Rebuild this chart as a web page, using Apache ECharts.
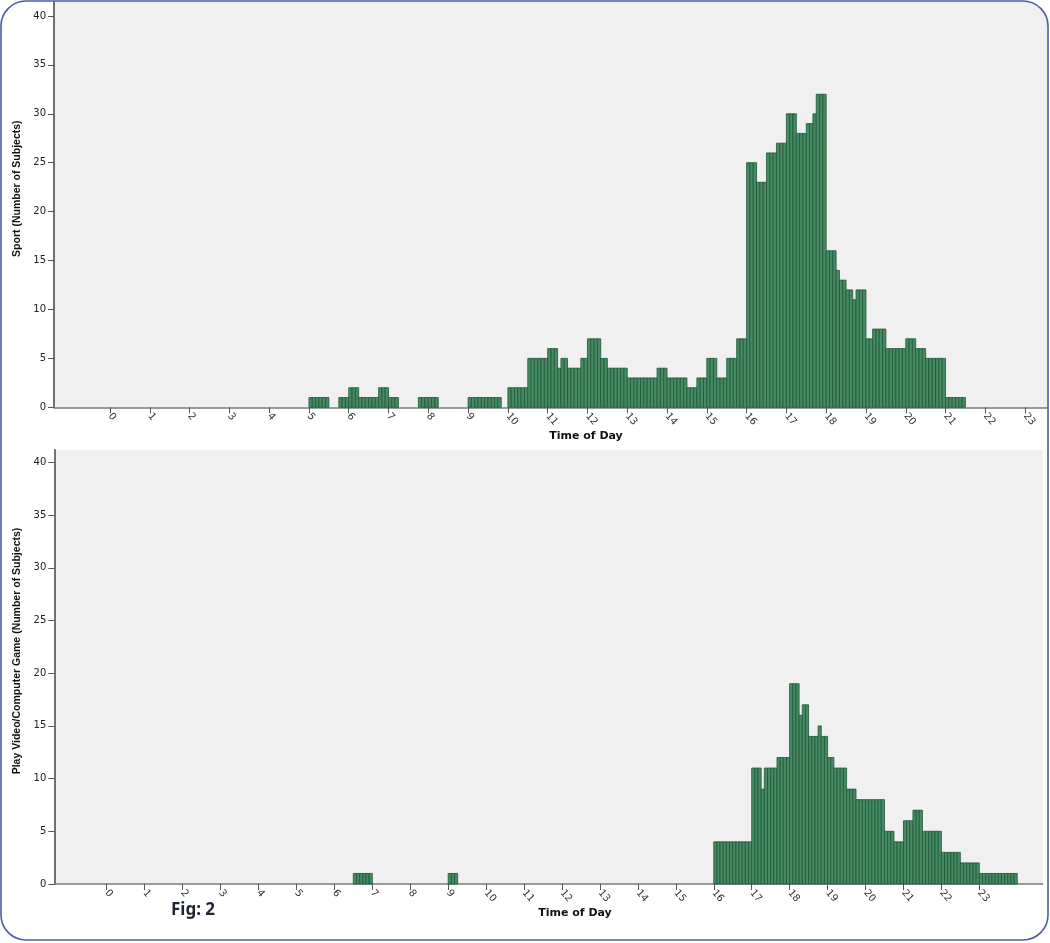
<!DOCTYPE html>
<html>
<head>
<meta charset="utf-8">
<script src="https://cdn.jsdelivr.net/npm/echarts@6/dist/echarts.min.js"></script>
<style>
  html, body { margin: 0; padding: 0; background: #fff; }
  #chart { width: 1050px; height: 943px; }
</style>
</head>
<body>
<div id="chart"></div>
<script>
// 5-minute bins, one row per hour
const binMinutes = 5;
const hourTicks = [0, 1, 2, 3, 4, 5, 6, 7, 8, 9, 10, 11, 12, 13, 14, 15, 16, 17, 18, 19, 20, 21, 22, 23];
const countTicks = [0, 5, 10, 15, 20, 25, 30, 35, 40];

const sportStartHour = 5;
const sportCounts = [
  1, 1, 1, 1, 1, 1, 0, 0, 0, 1, 1, 1,            // 5h
  2, 2, 2, 1, 1, 1, 1, 1, 1, 2, 2, 2,            // 6h
  1, 1, 1, 0, 0, 0, 0, 0, 0, 1, 1, 1,            // 7h
  1, 1, 1, 0, 0, 0, 0, 0, 0, 0, 0, 0,            // 8h
  1, 1, 1, 1, 1, 1, 1, 1, 1, 1, 0, 0,            // 9h
  2, 2, 2, 2, 2, 2, 5, 5, 5, 5, 5, 5,            // 10h
  6, 6, 6, 4, 5, 5, 4, 4, 4, 4, 5, 5,            // 11h
  7, 7, 7, 7, 5, 5, 4, 4, 4, 4, 4, 4,            // 12h
  3, 3, 3, 3, 3, 3, 3, 3, 3, 4, 4, 4,            // 13h
  3, 3, 3, 3, 3, 3, 2, 2, 2, 3, 3, 3,            // 14h
  5, 5, 5, 3, 3, 3, 5, 5, 5, 7, 7, 7,            // 15h
  25, 25, 25, 23, 23, 23, 26, 26, 26, 27, 27, 27, // 16h
  30, 30, 30, 28, 28, 28, 29, 29, 30, 32, 32, 32, // 17h
  16, 16, 16, 14, 13, 13, 12, 12, 11, 12, 12, 12, // 18h
  7, 7, 8, 8, 8, 8, 6, 6, 6, 6, 6, 6,            // 19h
  7, 7, 7, 6, 6, 6, 5, 5, 5, 5, 5, 5,            // 20h
  1, 1, 1, 1, 1, 1, 0, 0, 0, 0, 0, 0             // 21h
];

const gameStartHour = 6;
const gameCounts = [
  0, 0, 0, 0, 0, 0, 1, 1, 1, 1, 1, 1,            // 6h
  0, 0, 0, 0, 0, 0, 0, 0, 0, 0, 0, 0,            // 7h
  0, 0, 0, 0, 0, 0, 0, 0, 0, 0, 0, 0,            // 8h
  1, 1, 1, 0, 0, 0, 0, 0, 0, 0, 0, 0,            // 9h
  0, 0, 0, 0, 0, 0, 0, 0, 0, 0, 0, 0,            // 10h
  0, 0, 0, 0, 0, 0, 0, 0, 0, 0, 0, 0,            // 11h
  0, 0, 0, 0, 0, 0, 0, 0, 0, 0, 0, 0,            // 12h
  0, 0, 0, 0, 0, 0, 0, 0, 0, 0, 0, 0,            // 13h
  0, 0, 0, 0, 0, 0, 0, 0, 0, 0, 0, 0,            // 14h
  0, 0, 0, 0, 0, 0, 0, 0, 0, 0, 0, 0,            // 15h
  4, 4, 4, 4, 4, 4, 4, 4, 4, 4, 4, 4,            // 16h
  11, 11, 11, 9, 11, 11, 11, 11, 12, 12, 12, 12, // 17h
  19, 19, 19, 16, 17, 17, 14, 14, 14, 15, 14, 14, // 18h
  12, 12, 11, 11, 11, 11, 9, 9, 9, 8, 8, 8,      // 19h
  8, 8, 8, 8, 8, 8, 5, 5, 5, 4, 4, 4,            // 20h
  6, 6, 6, 7, 7, 7, 5, 5, 5, 5, 5, 5,            // 21h
  3, 3, 3, 3, 3, 3, 2, 2, 2, 2, 2, 2,            // 22h
  1, 1, 1, 1, 1, 1, 1, 1, 1, 1, 1, 1             // 23h
];

function toBins(startHour, counts) {
  const out = [];
  counts.forEach((c, i) => {
    if (!c) return;
    const s = startHour + i * binMinutes / 60;
    out.push([s, s + binMinutes / 60, c]);
  });
  return out;
}

function renderBin(params, api) {
  const top = api.coord([api.value(0), api.value(2)]);
  const base = api.coord([api.value(1), 0]);
  return {
    type: 'rect',
    shape: { x: top[0], y: top[1], width: base[0] - top[0], height: base[1] - top[1] },
    style: { fill: '#468b63', stroke: '#1f5636', lineWidth: 0.8 }
  };
}

const tickStyle = { show: true, length: 6, lineStyle: { color: '#555', width: 1 } };

function makeX(gridIndex, min, max, namePad, nameGap) {
  return {
    type: 'value', gridIndex, min, max,
    name: 'Time of Day', nameLocation: 'middle', nameGap,
    nameTextStyle: { fontFamily: 'DejaVu Sans', fontWeight: 'bold', fontSize: 11, color: '#111', padding: [0, 0, 0, namePad] },
    axisLine: { show: true, lineStyle: { color: '#7a7a7a', width: 1.5 } },
    axisTick: Object.assign({ customValues: hourTicks }, tickStyle),
    axisLabel: { customValues: hourTicks, rotate: -50, margin: 7, fontSize: 10, fontFamily: 'DejaVu Sans', color: '#333' },
    splitLine: { show: false }
  };
}

function makeY(gridIndex, max, name) {
  return {
    type: 'value', gridIndex, min: 0, max,
    name, nameLocation: 'middle', nameRotate: 90, nameGap: 30,
    nameTextStyle: { fontFamily: 'Liberation Sans', fontWeight: 'bold', fontSize: 10.5, color: '#111', padding: [0, 0, 0, 32] },
    axisLine: { show: true, onZero: false, lineStyle: { color: '#707070', width: 2 } },
    axisTick: Object.assign({ customValues: countTicks }, tickStyle),
    axisLabel: { customValues: countTicks, margin: 8, fontSize: 10, fontFamily: 'DejaVu Sans', color: '#222' },
    splitLine: { show: false }
  };
}

const chart = echarts.init(document.getElementById('chart'));
chart.setOption({
  animation: false,
  grid: [
    { left: 54, top: 2, width: 993, height: 405.3, show: true, backgroundColor: '#f0f0f0', borderWidth: 0, outerBoundsMode: 'none' },
    { left: 54.3, top: 450, width: 988.4, height: 434, show: true, backgroundColor: '#f0f0f0', borderWidth: 0, outerBoundsMode: 'none' }
  ],
  xAxis: [
    makeX(0, -1.408, 23.55, 71, 20),
    makeX(1, -1.381, 24.67, 53, 24)
  ],
  yAxis: [
    makeY(0, 41.43, 'Sport (Number of Subjects)'),
    makeY(1, 41.17, 'Play Video/Computer Game (Number of Subjects)')
  ],
  series: [
    { type: 'custom', xAxisIndex: 0, yAxisIndex: 0, renderItem: renderBin, encode: { x: [0, 1], y: 2 }, data: toBins(sportStartHour, sportCounts) },
    { type: 'custom', xAxisIndex: 1, yAxisIndex: 1, renderItem: renderBin, encode: { x: [0, 1], y: 2 }, data: toBins(gameStartHour, gameCounts) }
  ],
  graphic: [
    { type: 'rect', z: 100, silent: true, shape: { x: -9, y: -9, width: 1067, height: 959, r: 35 }, style: { fill: 'none', stroke: '#fff', lineWidth: 20 } },
    { type: 'rect', z: 101, silent: true, shape: { x: 1, y: 1, width: 1047, height: 939, r: 25 }, style: { fill: 'none', stroke: '#4a5bab', lineWidth: 1.6 } },
    { type: 'text', z: 101, left: 171, top: 902, style: { text: 'Fig: 2', font: 'bold 17px "Noto Sans"', fill: '#1f2633' } }
  ]
});
</script>
</body>
</html>
